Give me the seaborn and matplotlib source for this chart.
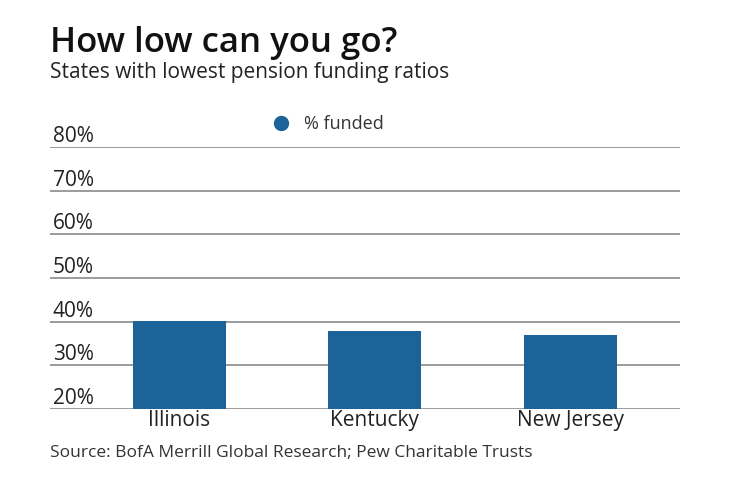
import matplotlib
matplotlib.use("Agg")
import matplotlib.pyplot as plt
import seaborn as sns
import pandas as pd

states = ["Illinois", "Kentucky", "New Jersey"]
funded = [40.1, 37.8, 36.9]
yticks = [20, 30, 40, 50, 60, 70, 80]

df = pd.DataFrame({"state": states, "funded": funded})

sns.set_style("white")
plt.rcParams["font.family"] = ["Open Sans", "DejaVu Sans"]

fig = plt.figure(figsize=(7.4, 4.82), dpi=100)
ax = fig.add_axes([0.0676, 0.1515, 0.8514, 0.5435])

sns.barplot(data=df, x="state", y="funded", color="#1c6399", saturation=1,
            width=0.476, ax=ax, zorder=3, linewidth=0)

ax.set_ylim(20, 80)
ax.set_xlim(-0.66, 2.56)
ax.set_yticks(yticks)
ax.set_yticklabels([f"{t}%" for t in yticks])
ax.yaxis.grid(True, color="#8a8a8a", linewidth=1.2, zorder=0)
ax.xaxis.grid(False)
for s in ax.spines.values():
    s.set_visible(False)
ax.tick_params(axis="y", length=0, pad=-2, labelsize=15, labelcolor="#222222")
ax.tick_params(axis="x", length=0, pad=1, labelsize=15, labelcolor="#222222")
for lab in ax.get_yticklabels():
    lab.set_horizontalalignment("left")
    lab.set_verticalalignment("bottom")
ax.set_xlabel("")
ax.set_ylabel("")

# legend with circle marker
h = plt.Line2D([], [], marker="o", linestyle="", color="#1c6399", markersize=10)
fig.legend([h], ["% funded"], loc="center", bbox_to_anchor=(0.437, 0.742),
           frameon=False, fontsize=13, handletextpad=0.25, labelcolor="#333333")

fig.text(0.0676, 0.892, "How low can you go?", fontsize=25, fontweight="semibold",
         color="#111111")
fig.text(0.0676, 0.838, "States with lowest pension funding ratios", fontsize=15,
         color="#222222")
fig.text(0.0676, 0.052, "Source: BofA Merrill Global Research; Pew Charitable Trusts",
         fontsize=12.5, color="#333333")

fig.savefig("out.png", dpi=100)
